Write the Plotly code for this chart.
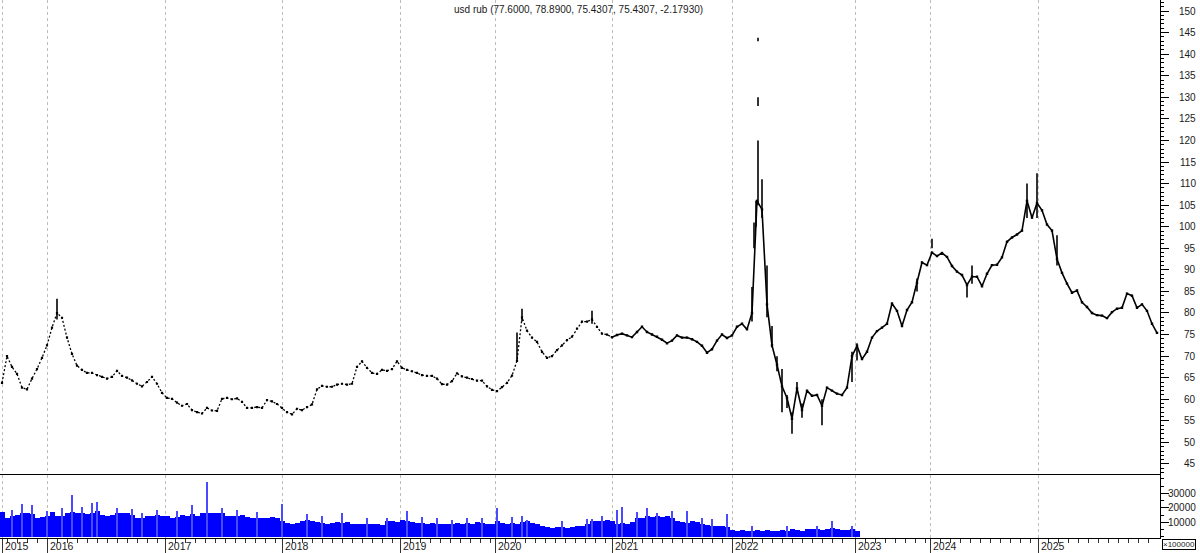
import plotly.graph_objects as go

# ---------------- data ----------------
# closing level per bar group (index = bar group along the x axis)
close = [
    63.8, 70.0, 67.5, 65.9, 62.7, 62.3, 64.8, 67.0, 69.6, 72.5,
    76.6, 80.0, 78.9, 74.3, 70.5, 67.8, 66.8, 66.1, 66.1, 65.6,
    65.2, 64.8, 65.2, 66.6, 65.4, 65.0, 64.4, 63.6, 63.0, 64.0,
    65.2, 63.6, 61.5, 60.3, 60.1, 59.2, 58.5, 58.9, 57.5, 57.0,
    56.7, 58.0, 57.4, 57.3, 60.1, 60.3, 60.0, 60.2, 59.4, 58.0,
    58.0, 58.2, 58.0, 59.8, 59.5, 58.9, 58.0, 57.0, 56.5, 57.8,
    57.5, 58.2, 58.8, 62.3, 63.1, 62.9, 62.9, 63.4, 63.6, 63.4,
    63.6, 67.5, 68.8, 67.3, 66.1, 65.9, 66.8, 66.6, 67.0, 68.8,
    67.3, 66.8, 66.5, 66.1, 65.6, 65.4, 65.4, 64.8, 63.5, 63.4,
    64.2, 66.0, 65.3, 65.0, 64.7, 64.3, 64.3, 63.0, 62.2, 61.9,
    62.8, 63.8, 65.5, 68.9, 79.0, 75.9, 74.3, 73.3, 71.0, 69.6,
    70.0, 71.4, 72.5, 73.7, 74.5, 76.4, 78.0, 78.0, 78.5, 76.8,
    75.2, 75.0, 74.4, 74.9, 75.2, 74.8, 74.4, 75.6, 76.8, 75.6,
    75.0, 74.5, 73.8, 73.0, 73.6, 74.8, 74.3, 74.3, 73.9, 73.3,
    72.4, 70.8, 71.6, 73.6, 75.0, 74.2, 74.8, 76.8, 77.5, 76.2,
    80.0, 106.0, 104.0, 82.0, 72.5, 68.0, 63.0, 60.3, 55.5, 62.5,
    57.5, 62.0, 60.8, 61.0, 58.5, 62.7, 62.0, 61.3, 61.0, 62.7,
    70.0, 72.4, 69.3, 71.0, 74.3, 75.8, 76.6, 77.5, 82.2, 80.5,
    77.0, 80.7, 82.5, 87.0, 91.7, 91.1, 94.0, 93.2, 93.9, 93.0,
    90.9, 89.6, 88.8, 86.5, 88.4, 88.4, 86.2, 89.1, 91.1, 91.2,
    92.9, 96.5, 97.5, 98.2, 99.1, 106.0, 102.1, 105.5, 103.8, 100.5,
    99.1, 92.5, 89.3, 86.8, 84.7, 85.2, 82.5, 81.4, 80.0, 79.5,
    79.4, 78.8, 80.2, 81.0, 81.2, 84.5, 84.0, 81.2, 82.0, 80.5,
    77.5, 75.4,
]

# tall high-low bars (bar group index, low, high)
range_idx = [11, 103, 104, 118, 150, 150.4, 150.8, 151.2, 151.2, 151.2,
             152, 153, 154, 155, 156, 157, 158, 159, 160, 164,
             170, 171, 183, 186, 193, 194, 205, 207, 211]
range_low = [78.5, 68.9, 78.0, 77.5, 78.0, 95.0, 100.0, 105.0, 128.0, 143.0,
             102.0, 79.0, 72.0, 66.5, 57.0, 58.0, 52.0, 61.5, 55.7, 54.0,
             64.0, 69.0, 85.0, 95.0, 83.6, 86.8, 102.0, 102.0, 91.0]
range_high = [83.3, 75.5, 81.0, 80.5, 86.0, 101.0, 106.0, 120.0, 130.0, 143.8,
              111.0, 91.0, 77.0, 70.0, 67.0, 61.0, 57.0, 64.0, 59.0, 60.0,
              71.0, 73.0, 88.0, 97.2, 86.8, 91.0, 110.0, 112.4, 98.0]

# volume per bar group (axis units, scale x100000)
volume = [
    17500, 13500, 14500, 15500, 16500, 17000, 16000, 13500, 14000, 15000,
    17500, 15000, 14500, 16500, 17500, 17000, 16500, 16000, 16500, 18500,
    15500, 15000, 15500, 16500, 17000, 16500, 15500, 13500, 13000, 14500,
    14500, 15500, 15000, 14500, 13500, 14000, 15500, 15000, 16000, 14500,
    17000, 16500, 17000, 16500, 17000, 15000, 14500, 14500, 15500, 14000,
    13500, 13500, 13000, 13500, 14000, 13000, 11500, 10000, 9500, 10000,
    11500, 12000, 11000, 10500, 10000, 9500, 10000, 10500, 10000, 10500,
    9500, 9000, 9500, 9000, 9500, 9000, 8500, 11000, 11500, 10500,
    12000, 11000, 10500, 10000, 10000, 9500, 10000, 9500, 9000, 9500,
    9500, 10000, 9000, 10000, 9500, 10500, 10000, 9500, 9500, 11000,
    10000, 9500, 10000, 9500, 10500, 11000, 10000, 9000, 7500, 7000,
    6500, 7000, 7000, 6500, 7000, 7500, 8000, 9000, 11000, 11500,
    11000, 12000, 11000, 9000, 10000, 9500, 10500, 13000, 13500, 14500,
    14000, 15000, 14000, 14500, 13000, 11000, 10500, 10000, 11000, 10500,
    9000, 8500, 8000, 8000, 7500, 7000, 5000, 4500, 5000, 4500,
    4500, 5000, 4500, 5000, 4500, 4500, 5000, 4500, 5500, 5000,
    4500, 5500, 6000, 5500, 5000, 5500, 6500, 5500, 5000, 5000,
    5500, 4500,
]
spike_idx = [2, 4, 6, 9, 12, 14, 16, 18, 19, 23, 26, 28, 31, 35, 38, 41, 44,
             47, 51, 56, 61, 64, 68, 73, 77, 81, 84, 87, 90, 93, 96, 99, 102,
             104, 105, 112, 117, 118, 120, 123, 124, 127, 129, 131, 134, 137,
             140, 142, 145, 150, 157, 163, 166, 170]
spike_vol = [19000, 22700, 22000, 18000, 20000, 29000, 21000, 24000, 24500,
             20000, 19500, 17000, 19000, 18000, 22000, 38000, 20000, 19000,
             17500, 23000, 16000, 14500, 16500, 13500, 13500, 18000, 14000,
             13000, 12000, 13000, 13500, 20000, 14000, 15000, 12000, 11000,
             12500, 12500, 14500, 19000, 21000, 17500, 20000, 17000, 18000,
             18000, 13000, 12500, 16000, 8000, 7500, 7500, 11000, 8000]

years = ["2015", "2016", "2017", "2018", "2019", "2020",
         "2021", "2022", "2023", "2024", "2025"]
year_start = [0, 9.0, 32.6, 56.0, 79.6, 98.6, 122.0, 146.0, 170.6, 185.6, 207.2]

price_ticks = list(range(45, 151, 5))
vol_ticks = [10000, 20000, 30000]
title_text = "usd rub (77.6000, 78.8900, 75.4307, 75.4307, -2.17930)"

# ---------------- figure ----------------
FONT = "Liberation Sans, Arial, sans-serif"
TXT = "#1a1a1a"
X_RANGE = [-0.4, 231.6]
VOL_TOP = 63.5 / 538
SPLIT = 122  # early, sparser-looking part of the series

fig = go.Figure()

idx = list(range(len(close)))
# early years: dotted look
fig.add_trace(go.Scatter(x=idx[:SPLIT + 1], y=close[:SPLIT + 1], mode="lines+markers",
                         line=dict(color="#000000", width=1.3, dash="2px,2px"),
                         marker=dict(symbol="square", size=2.2, color="#000000",
                                     line=dict(width=0)),
                         xaxis="x", yaxis="y", hoverinfo="skip", showlegend=False))
# later years: denser, solid look
fig.add_trace(go.Scatter(x=idx[SPLIT:], y=close[SPLIT:], mode="lines+markers",
                         line=dict(color="#000000", width=1.6),
                         marker=dict(symbol="square", size=2.4, color="#000000",
                                     line=dict(width=0)),
                         xaxis="x", yaxis="y", hoverinfo="skip", showlegend=False))

# high-low segments
seg_x, seg_y = [], []
for i, lo, hi in zip(range_idx, range_low, range_high):
    seg_x += [i, i, None]
    seg_y += [lo, hi, None]
fig.add_trace(go.Scatter(x=seg_x, y=seg_y, mode="lines",
                         line=dict(color="#000000", width=1.6),
                         xaxis="x", yaxis="y", hoverinfo="skip", showlegend=False))

fig.add_trace(go.Bar(x=list(range(len(volume))), y=volume, width=1.0,
                     marker=dict(color="#0000ff", line=dict(width=0)),
                     xaxis="x2", yaxis="y2", showlegend=False))
fig.add_trace(go.Bar(x=spike_idx, y=spike_vol, width=0.35,
                     marker=dict(color="#4a4aff", line=dict(width=0)),
                     xaxis="x2", yaxis="y2", showlegend=False))

# minor tick positions along the bottom axis (every 2 bar groups from each year start)
minor_vals = []
bounds = year_start + [X_RANGE[1]]
p = year_start[1] - 2.0
while p > X_RANGE[0] + 0.5:
    minor_vals.append(p)
    p -= 2.0
for a, b in zip(year_start[1:], bounds[2:]):
    p = a + 2.0
    while p < b - 0.8:
        minor_vals.append(p)
        p += 2.0

grid = dict(showgrid=True, gridcolor="#bdbdbd", griddash="dot", gridwidth=1)

fig.update_layout(
    width=1200, height=553,
    margin=dict(l=0, r=40, t=0, b=15),
    paper_bgcolor="white", plot_bgcolor="white",
    barmode="overlay", bargap=0,
    showlegend=False,
    font=dict(family=FONT, size=10, color=TXT),
    xaxis=dict(domain=[0, 1], range=X_RANGE, anchor="y",
               tickmode="array", tickvals=year_start, showticklabels=False,
               ticks="", zeroline=False, showline=False, **grid),
    yaxis=dict(domain=[VOL_TOP, 1], range=[42.56, 152.555], side="right",
               anchor="x", tickmode="array", tickvals=price_ticks,
               showticklabels=False, ticks="outside", ticklen=8,
               tickcolor="#000", showgrid=False, zeroline=False,
               showline=True, linecolor="#000", linewidth=1,
               minor=dict(tickmode="linear", tick0=0, dtick=1,
                          ticks="outside", ticklen=3, tickcolor="#000")),
    xaxis2=dict(domain=[0, 1], range=X_RANGE, anchor="y2",
                tickmode="array", tickvals=year_start, showticklabels=False,
                ticks="outside", ticklen=15, tickcolor="#333",
                showline=True, linecolor="#000", linewidth=1, zeroline=False,
                minor=dict(tickmode="array", tickvals=minor_vals,
                           ticks="outside", ticklen=4, tickcolor="#333"),
                **grid),
    yaxis2=dict(domain=[0, VOL_TOP], range=[-800, 43000], side="right",
                anchor="x2", tickmode="array", tickvals=vol_ticks,
                showticklabels=False, ticks="outside", ticklen=8,
                tickcolor="#000", showgrid=False, zeroline=False,
                showline=True, linecolor="#000", linewidth=1,
                minor=dict(tickmode="linear", tick0=0, dtick=5000,
                           ticks="outside", ticklen=3, tickcolor="#000")),
)

# separator between price and volume panels
fig.add_shape(type="line", xref="paper", yref="paper", x0=0, x1=1,
              y0=VOL_TOP, y1=VOL_TOP, line=dict(color="#000", width=1))

ann = []
LABEL_X = 1198 / 1160
for v in price_ticks:
    ann.append(dict(x=LABEL_X, y=v, xref="paper", yref="y", text=str(v),
                    xanchor="right", yanchor="middle", showarrow=False,
                    font=dict(family=FONT, size=10, color=TXT)))
for v in vol_ticks:
    ann.append(dict(x=LABEL_X, y=v, xref="paper", yref="y2", text=str(v),
                    xanchor="right", yanchor="middle", showarrow=False,
                    font=dict(family=FONT, size=10, color=TXT)))
for yr, pos in zip(years, year_start):
    ann.append(dict(x=pos, y=0, xref="x2", yref="paper", text=yr,
                    xanchor="left", yanchor="middle", xshift=1, yshift=-8,
                    showarrow=False, font=dict(family=FONT, size=10.5, color=TXT)))
ann.append(dict(x=0.499, y=1, xref="paper", yref="paper", text=title_text,
                xanchor="center", yanchor="top", yshift=-2, showarrow=False,
                font=dict(family=FONT, size=10, color=TXT)))
ann.append(dict(x=1162 / 1160, y=0, xref="paper", yref="paper", text="×100000",
                xanchor="left", yanchor="top", yshift=-1, showarrow=False,
                bordercolor="#000", borderwidth=1, borderpad=0,
                font=dict(family=FONT, size=8, color=TXT)))
fig.update_layout(annotations=ann)

fig.write_html("out.html",
               config={"displayModeBar": False},
               post_script="document.body.style.margin='0';"
                           "document.body.style.overflow='hidden';")
